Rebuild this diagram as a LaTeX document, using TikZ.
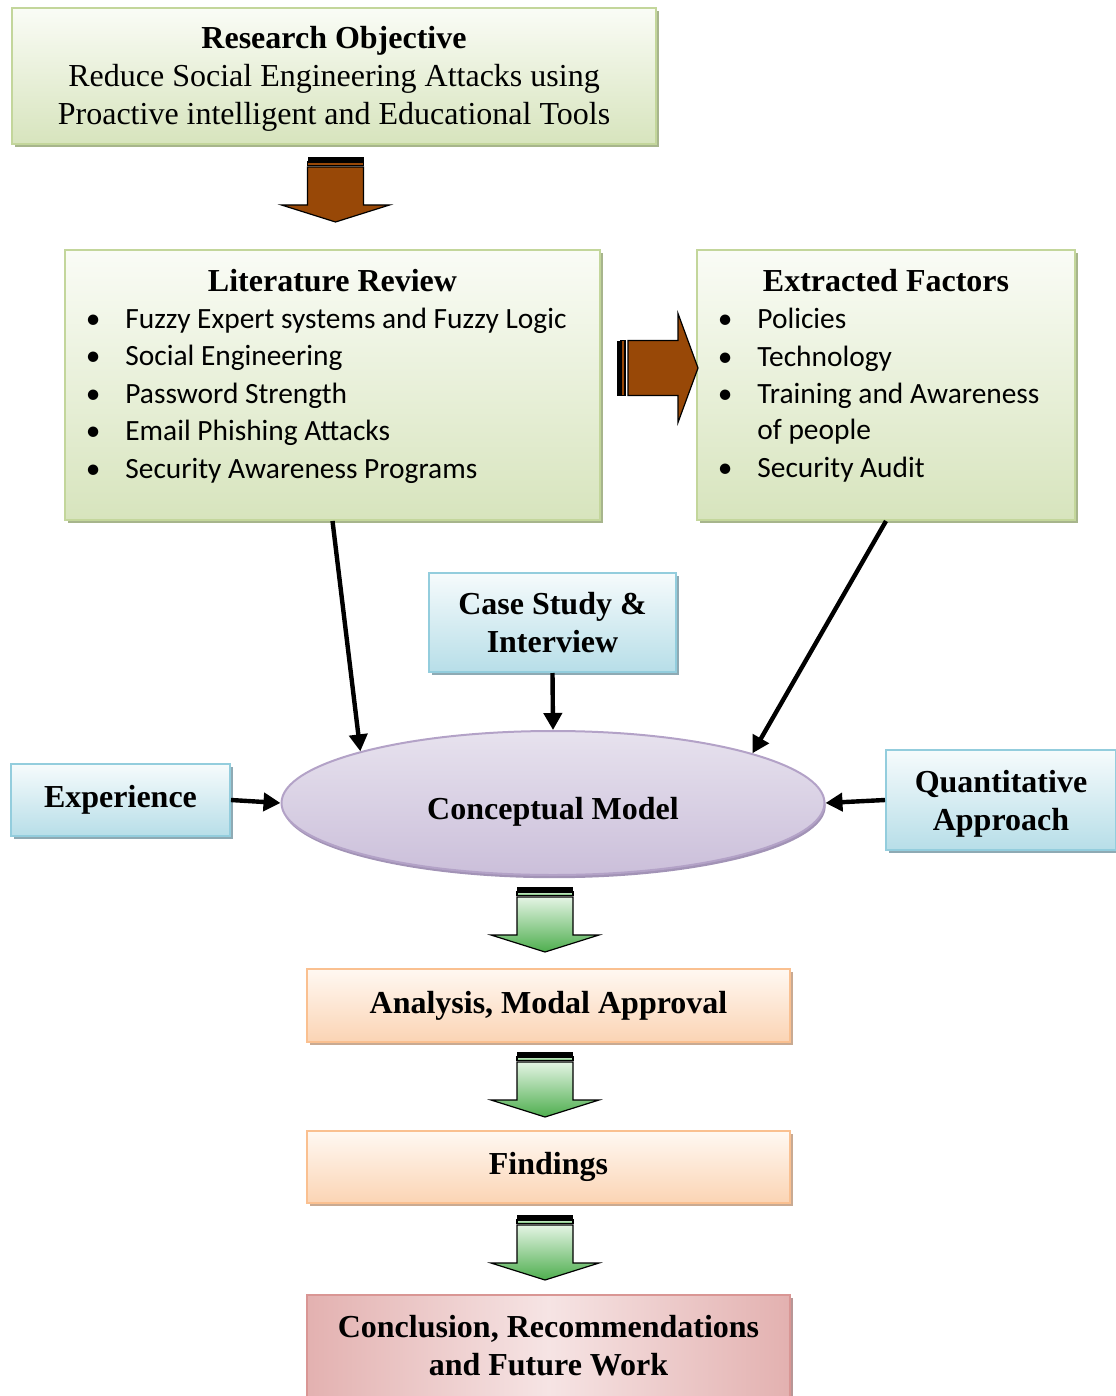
\documentclass[tikz,border=0pt]{standalone}
\usepackage{fontspec}
\setmainfont{Liberation Serif}
\newfontfamily\bodysans{Carlito}
\usetikzlibrary{arrows.meta,shadows,shapes.geometric}

% palette
\definecolor{grnline}{HTML}{C3D69B}
\definecolor{grntop}{HTML}{FAFCF6}
\definecolor{grnbot}{HTML}{D7E4BD}
\definecolor{grnshade}{HTML}{A7B58C}
\definecolor{bluline}{HTML}{93CDDD}
\definecolor{blutop}{HTML}{F6FBFC}
\definecolor{blubot}{HTML}{B7DEE8}
\definecolor{blushade}{HTML}{8EAAB4}
\definecolor{orgline}{HTML}{FAC090}
\definecolor{orgtop}{HTML}{FFF8F2}
\definecolor{orgbot}{HTML}{FBD4B4}
\definecolor{orgshade}{HTML}{C9AA92}
\definecolor{pnkline}{HTML}{D99694}
\definecolor{pnkdark}{HTML}{E3B1B0}
\definecolor{pnklight}{HTML}{F6E4E4}
\definecolor{pnkshade}{HTML}{B89696}
\definecolor{lavline}{HTML}{B3A2C7}
\definecolor{lavtop}{HTML}{E7E2EE}
\definecolor{lavbot}{HTML}{CBBFDA}
\definecolor{lavshade}{HTML}{A293B6}
\definecolor{arrbrown}{HTML}{984807}
\definecolor{arrgrntop}{HTML}{E4F4E4}
\definecolor{arrgrnbot}{HTML}{4EAE4E}

\newcommand\hdfont{\fontsize{16pt}{19pt}\selectfont}
\newcommand\listfont{\bodysans\fontsize{14.7pt}{18pt}\selectfont}
\newcommand\bul{\makebox[0pt][r]{\textbullet\hspace{12.5pt}}}

\tikzset{
  box/.style={rectangle, inner sep=0pt, line width=1pt, align=center, font=\hdfont\bfseries},
  greenbox/.style={box, draw=grnline, top color=grntop, bottom color=grnbot,
    drop shadow={shadow xshift=1.6pt, shadow yshift=-1.6pt, fill=grnshade, opacity=1}},
  bluebox/.style={box, draw=bluline, top color=blutop, bottom color=blubot,
    drop shadow={shadow xshift=1.6pt, shadow yshift=-1.6pt, fill=blushade, opacity=1}},
  orangebox/.style={box, draw=orgline, top color=orgtop, bottom color=orgbot,
    drop shadow={shadow xshift=1.6pt, shadow yshift=-1.6pt, fill=orgshade, opacity=1}},
  pinkbox/.style={box, draw=pnkline, left color=pnkdark, right color=pnkdark, middle color=pnklight,
    drop shadow={shadow xshift=1.6pt, shadow yshift=-1.6pt, fill=pnkshade, opacity=1}},
  heading/.style={anchor=base, inner sep=0pt, font=\hdfont\bfseries},
  item/.style={anchor=base west, inner sep=0pt, font=\listfont},
  conn/.style={line width=2.2pt, -{Triangle[length=8.5pt,width=9pt]}},
  % block arrow pointing down, origin at the top centre of the shaft
  pics/downblock/.style={code={
    \path[draw=black, line width=0.6pt, #1]
      (-28,10) -- (28,10) -- (28,48) -- (54,48) -- (0,65) -- (-54,48) -- (-28,48) -- cycle;
    \path[fill=black] (-28,0) rectangle (28,5);
    \path[draw=black, line width=0.6pt, #1] (-28,5) rectangle (28,8.5);
  }},
  % block arrow pointing right, origin at the middle of its left end
  pics/rightblock/.style={code={
    \path[draw=black, line width=0.6pt, #1]
      (11,-27.5) -- (61,-27.5) -- (61,-54.5) -- (81,0) -- (61,54.5) -- (61,27.5) -- (11,27.5) -- cycle;
    \path[fill=black] (0,-27.5) rectangle (4,27.5);
    \path[draw=black, line width=0.6pt, #1] (4,-27.5) rectangle (8,27.5);
  }},
}

\begin{document}
\begin{tikzpicture}[x=0.5pt, y=-0.5pt]
\useasboundingbox (0,0) rectangle (1115,1396);

% objective
\node[greenbox, minimum width=322pt, minimum height=68pt] (obj) at (334,76) {};
\node[anchor=center, inner sep=0pt, align=center, font=\hdfont] (objtext) at (334,79)
  {\textbf{Research Objective}\\Reduce Social Engineering Attacks using\\Proactive intelligent and Educational Tools};

\pic at (335.5,157) {downblock={fill=arrbrown}};

% literature review
\node[greenbox, minimum width=267.5pt, minimum height=135pt] (lit) at (332.5,385) {};
\node[heading] (littitle) at (332.5,291) {Literature Review};
\foreach \t [count=\i] in {Fuzzy Expert systems and Fuzzy Logic, Social Engineering,
    Password Strength, Email Phishing Attacks, Security Awareness Programs}
  \node[item] (lit\i) at (125,{328+37.5*(\i-1)}) {\bul\t};

% extracted factors
\node[greenbox, minimum width=189pt, minimum height=135pt] (ext) at (886,385) {};
\node[heading] (exttitle) at (886,291) {Extracted Factors};
\node[item] (ext1) at (757,328) {\bul Policies};
\node[item] (ext2) at (757,366) {\bul Technology};
\node[item] (ext3) at (757,403) {\bul Training and Awareness};
\node[item] (ext3b) at (757,439) {of people};
\node[item] (ext4) at (757,477) {\bul Security Audit};

\pic at (617,368) {rightblock={fill=arrbrown}};

% inputs to the model
\node[bluebox, minimum width=123.5pt, minimum height=49.5pt] (case) at (552.5,622.5) {Case Study \&\\Interview};
\node[bluebox, minimum width=109.5pt, minimum height=36pt] (exp) at (120.5,800) {Experience};
\node[bluebox, minimum width=115pt, minimum height=50pt] (quant) at (1001,800) {};
\node[inner sep=0pt, align=center, font=\hdfont\bfseries] (quanttext) at (1001,804) {Quantitative\\Approach};

\node[ellipse, minimum width=271.5pt, minimum height=72pt, inner sep=0pt, line width=1pt,
  draw=lavline, top color=lavtop, bottom color=lavbot,
  drop shadow={shadow xshift=0.6pt, shadow yshift=-1.6pt, fill=lavshade, opacity=1}]
  (cm) at (553,803) {};
\node[inner sep=0pt, font=\hdfont\bfseries] (cmtext) at (553,812) {Conceptual Model};

\draw[conn] (lit.south) -- (cm.165);
\draw[conn] (ext.south) -- (cm.14.6);
\draw[conn] (case.south) -- (cm.north);
\draw[conn] (exp.east) -- (cm.west);
\draw[conn] (quant.west) -- (cm.east);

% outcome chain
\pic at (545,887) {downblock={top color=arrgrntop, bottom color=arrgrnbot}};
\node[orangebox, minimum width=241.5pt, minimum height=36.5pt] (ana) at (548.5,1005.5) {Analysis, Modal Approval};
\pic at (545,1052) {downblock={top color=arrgrntop, bottom color=arrgrnbot}};
\node[orangebox, minimum width=241.5pt, minimum height=36pt] (fnd) at (548.5,1167) {Findings};
\pic at (545,1215) {downblock={top color=arrgrntop, bottom color=arrgrnbot}};
\node[pinkbox, minimum width=241.5pt, minimum height=51pt] (con) at (548.5,1346) {Conclusion, Recommendations\\and Future Work};
\end{tikzpicture}
\end{document}
